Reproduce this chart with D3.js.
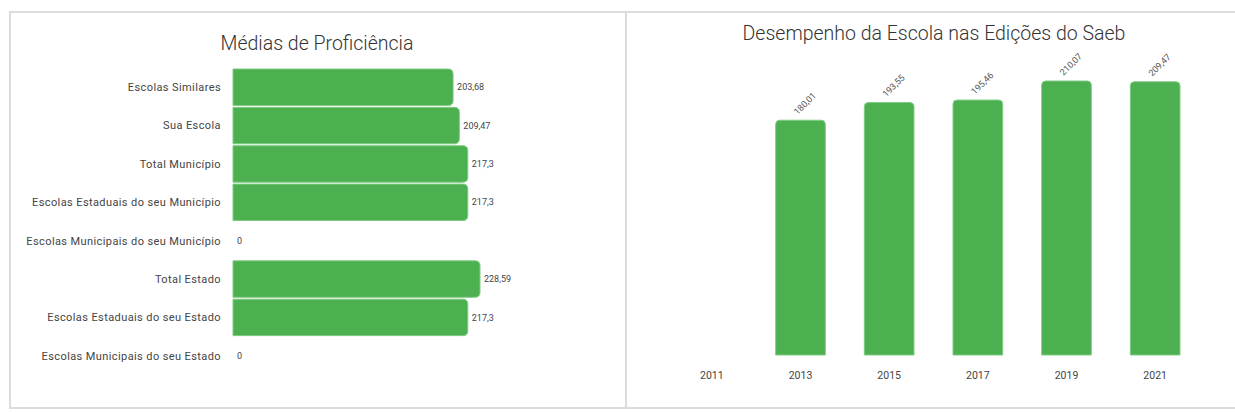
<!DOCTYPE html>
<html>
<head>
<meta charset="utf-8">
<script src="https://cdn.jsdelivr.net/npm/d3@7"></script>
<style>
  body { margin: 0; background: #fff; font-family: Roboto, "Noto Sans", sans-serif; }
  svg { display: block; }
</style>
</head>
<body>
<div id="chart"></div>
<script>
// left chart data
const categorias = [
  "Escolas Similares",
  "Sua Escola",
  "Total Município",
  "Escolas Estaduais do seu Município",
  "Escolas Municipais do seu Município",
  "Total Estado",
  "Escolas Estaduais do seu Estado",
  "Escolas Municipais do seu Estado"
];
const medias = [203.68, 209.47, 217.3, 217.3, 0, 228.59, 217.3, 0];

// right chart data
const anos = ["2011", "2013", "2015", "2017", "2019", "2021"];
const desempenho = [null, 180.01, 193.55, 195.46, 210.07, 209.47];

const fmt = v => String(v).replace(".", ",");
const green = "#4caf50";

const svg = d3.select("#chart").append("svg")
  .attr("width", 1235)
  .attr("height", 412);

// panel frames
svg.append("rect").attr("x", 10).attr("y", 12).attr("width", 616).attr("height", 396)
  .attr("fill", "none").attr("stroke", "#dcdcdc").attr("stroke-width", 2);
svg.append("rect").attr("x", 626).attr("y", 12).attr("width", 640).attr("height", 396)
  .attr("fill", "none").attr("stroke", "#dcdcdc").attr("stroke-width", 2);

// ---- Médias de Proficiência ----
svg.append("text")
  .attr("x", 317).attr("y", 50)
  .attr("text-anchor", "middle")
  .attr("font-size", 19.5)
  .attr("font-weight", 300)
  .attr("fill", "#333")
  .text("Médias de Proficiência");

const xScale = d3.scaleLinear().domain([0, 228.59]).range([233, 480]);
const yBand = d3.scaleBand().domain(categorias).range([69, 374]).paddingInner(0.05);

const left = svg.append("g");

function roundRight(x0, y0, w, h, r) {
  r = Math.min(r, w);
  return `M${x0},${y0}H${x0 + w - r}Q${x0 + w},${y0} ${x0 + w},${y0 + r}` +
    `V${y0 + h - r}Q${x0 + w},${y0 + h} ${x0 + w - r},${y0 + h}H${x0}Z`;
}

left.selectAll("path.bar")
  .data(categorias.map((c, i) => ({ c, v: medias[i] })).filter(d => d.v > 0))
  .enter()
  .append("path")
    .attr("class", "bar")
    .attr("fill", green)
    .attr("stroke", "#7fcc82")
    .attr("stroke-width", 1)
    .attr("d", d => roundRight(xScale(0), yBand(d.c), xScale(d.v) - xScale(0), yBand.bandwidth(), 5));

left.selectAll("text.cat")
  .data(categorias)
  .enter()
  .append("text")
    .attr("class", "cat")
    .attr("x", 221)
    .attr("y", d => yBand(d) + yBand.bandwidth() / 2)
    .attr("dy", "0.35em")
    .attr("text-anchor", "end")
    .attr("font-size", 11)
    .attr("letter-spacing", 0.4)
    .attr("fill", "#444")
    .text(d => d);

left.selectAll("text.val")
  .data(categorias.map((c, i) => ({ c, v: medias[i] })))
  .enter()
  .append("text")
    .attr("class", "val")
    .attr("x", d => xScale(d.v) + 4)
    .attr("y", d => yBand(d.c) + yBand.bandwidth() / 2)
    .attr("dy", "0.35em")
    .attr("font-size", 9)
    .attr("fill", "#444")
    .text(d => fmt(d.v));

// ---- Desempenho da Escola nas Edições do Saeb ----
svg.append("text")
  .attr("x", 934).attr("y", 40)
  .attr("text-anchor", "middle")
  .attr("font-size", 19.5)
  .attr("font-weight", 300)
  .attr("fill", "#333")
  .text("Desempenho da Escola nas Edições do Saeb");

const xBand = d3.scaleBand().domain(anos).range([667.5, 1199.5]).paddingInner(0.44).paddingOuter(0.22);
const yScale = d3.scaleLinear().domain([0, 210.07]).range([355, 81]);

const right = svg.append("g");
const pontos = anos.map((a, i) => ({ a, v: desempenho[i] })).filter(d => d.v != null);

right.selectAll("path.bar")
  .data(pontos)
  .enter()
  .append("path")
    .attr("class", "bar")
    .attr("fill", green)
    .attr("stroke", "#7fcc82")
    .attr("stroke-width", 1)
    .attr("d", d => {
      const x0 = xBand(d.a), w = xBand.bandwidth(), y0 = yScale(d.v), y1 = yScale(0), r = 4;
      return `M${x0},${y1}V${y0 + r}Q${x0},${y0} ${x0 + r},${y0}H${x0 + w - r}` +
        `Q${x0 + w},${y0} ${x0 + w},${y0 + r}V${y1}Z`;
    });

right.selectAll("text.val")
  .data(pontos)
  .enter()
  .append("text")
    .attr("class", "val")
    .attr("transform", d => `translate(${xBand(d.a) + xBand.bandwidth() / 2 - 3},${yScale(d.v) - 5}) rotate(-45)`)
    .attr("font-size", 9)
    .attr("fill", "#555")
    .text(d => fmt(d.v));

const xAxis = right.append("g")
  .attr("transform", "translate(0,355)")
  .call(d3.axisBottom(xBand).tickSize(0).tickPadding(17));
xAxis.select(".domain").remove();
xAxis.selectAll("text")
  .attr("font-family", "Roboto, sans-serif")
  .attr("font-size", 10.5)
  .attr("fill", "#444");
</script>
</body>
</html>
